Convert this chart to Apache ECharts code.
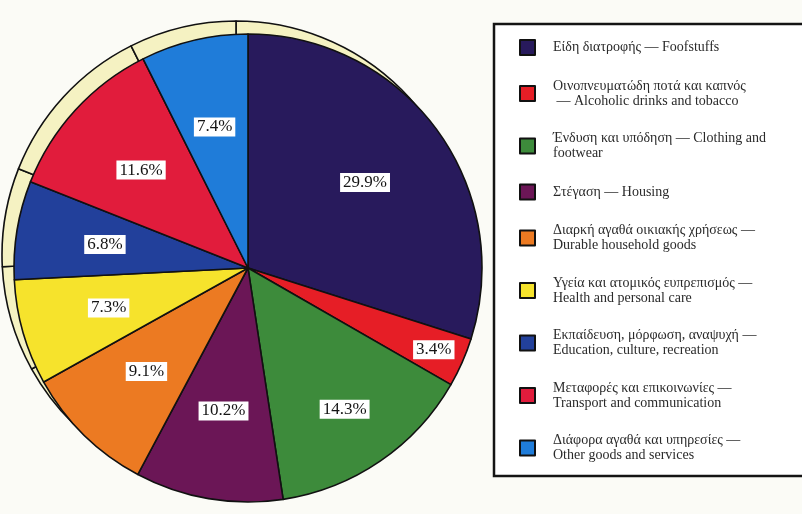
<!DOCTYPE html>
<html>
<head>
<meta charset="utf-8">
<script src="https://cdn.jsdelivr.net/npm/echarts@6/dist/echarts.min.js"></script>
<style>
  html, body { margin: 0; padding: 0; background: #fbfbf6; }
  #main { width: 802px; height: 514px; }
</style>
</head>
<body>
<div id="main"></div>
<script>
  // κατηγορίες δαπανών (με τη σειρά του υπομνήματος)
  const categories = [
    'Είδη διατροφής — Foofstuffs',
    'Οινοπνευματώδη ποτά και καπνός\n — Alcoholic drinks and tobacco',
    'Ένδυση και υπόδηση — Clothing and\nfootwear',
    'Στέγαση — Housing',
    'Διαρκή αγαθά οικιακής χρήσεως —\nDurable household goods',
    'Υγεία και ατομικός ευπρεπισμός —\nHealth and personal care',
    'Εκπαίδευση, μόρφωση, αναψυχή —\nEducation, culture, recreation',
    'Μεταφορές και επικοινωνίες —\nTransport and communication',
    'Διάφορα αγαθά και υπηρεσίες —\nOther goods and services'
  ]
  // ποσοστά %
  const shares = [29.9, 3.4, 14.3, 10.2, 9.1, 7.3, 6.8, 11.6, 7.4]
  const colors = ['#281a5c', '#e61e26', '#3d8b3b', '#6b1656', '#ec7a22',
                  '#f6e32c', '#22409b', '#e11c3c', '#1f7cd9']

  const CX = 248, CY = 268, R = 234

  const chart = echarts.init(document.getElementById('main'))

  const faceData = categories.map((name, i) => ({
    name: name,
    value: shares[i],
    itemStyle: { color: colors[i] }
  }))

  const option = {
    backgroundColor: '#fbfbf6',
    animation: false,
    color: colors,
    // πλαίσιο υπομνήματος
    graphic: [{
      type: 'rect',
      shape: { x: 494, y: 24, width: 310, height: 452 },
      style: { fill: '#ffffff', stroke: '#141414', lineWidth: 2.5 },
      z: 0
    }],
    legend: {
      orient: 'vertical',
      left: 514,
      top: 34,
      itemWidth: 15,
      itemHeight: 15,
      itemGap: 22.5,
      icon: 'rect',
      selectedMode: false,
      data: categories,
      itemStyle: { borderColor: '#111', borderWidth: 2 },
      textStyle: {
        fontFamily: '"Liberation Serif", "DejaVu Serif", serif',
        fontSize: 14,
        lineHeight: 15,
        color: '#2a2a2a',
        padding: [0, 0, 0, 13]
      }
    },
    series: [
      // κύρια όψη της πίτας
      {
        type: 'pie',
        z: 3,
        center: [CX, CY],
        radius: [0, R],
        startAngle: 90,
        clockwise: true,
        silent: true,
        data: faceData,
        itemStyle: { borderColor: '#111', borderWidth: 1.6 },
        label: { show: false },
        labelLine: { show: false }
      },
      // πλαϊνό (ανοιχτόχρωμο χείλος)
      {
        type: 'pie',
        z: 2,
        center: [CX - 12, CY - 13],
        radius: [0, R],
        startAngle: 90,
        clockwise: true,
        silent: true,
        data: categories.map((name, i) => ({ name: name, value: shares[i] })),
        itemStyle: { color: '#f5f2c2', borderColor: '#111', borderWidth: 1.6 },
        label: { show: false },
        labelLine: { show: false }
      },
      // ετικέτες ποσοστών
      {
        type: 'pie',
        z: 4,
        center: [CX, CY],
        radius: [72, 212],
        startAngle: 90,
        clockwise: true,
        silent: true,
        data: categories.map((name, i) => ({ name: name, value: shares[i] })),
        itemStyle: { color: 'rgba(0,0,0,0)', borderWidth: 0 },
        label: {
          show: true,
          position: 'inside',
          formatter: (p) => p.value.toFixed(1) + '%',
          fontFamily: '"Liberation Serif", "DejaVu Serif", serif',
          fontSize: 17,
          color: '#141414',
          backgroundColor: '#ffffff',
          padding: [2, 3, 0, 3]
        },
        labelLine: { show: false },
        // τα στενά κομμάτια έχουν την ετικέτα πιο κοντά στην περιφέρεια
        labelLayout: (p) => {
          const r = p.labelRect
          const lx = r.x + r.width / 2, ly = r.y + r.height / 2
          const k = shares[p.dataIndex] < 5 ? 1.4 : (shares[p.dataIndex] > 12 && shares[p.dataIndex] < 20 ? 1.18 : 1)
          return {
            x: CX + (lx - CX) * k,
            y: CY + (ly - CY) * k,
            align: 'center',
            verticalAlign: 'middle'
          }
        }
      }
    ]
  }

  chart.setOption(option)
</script>
</body>
</html>
